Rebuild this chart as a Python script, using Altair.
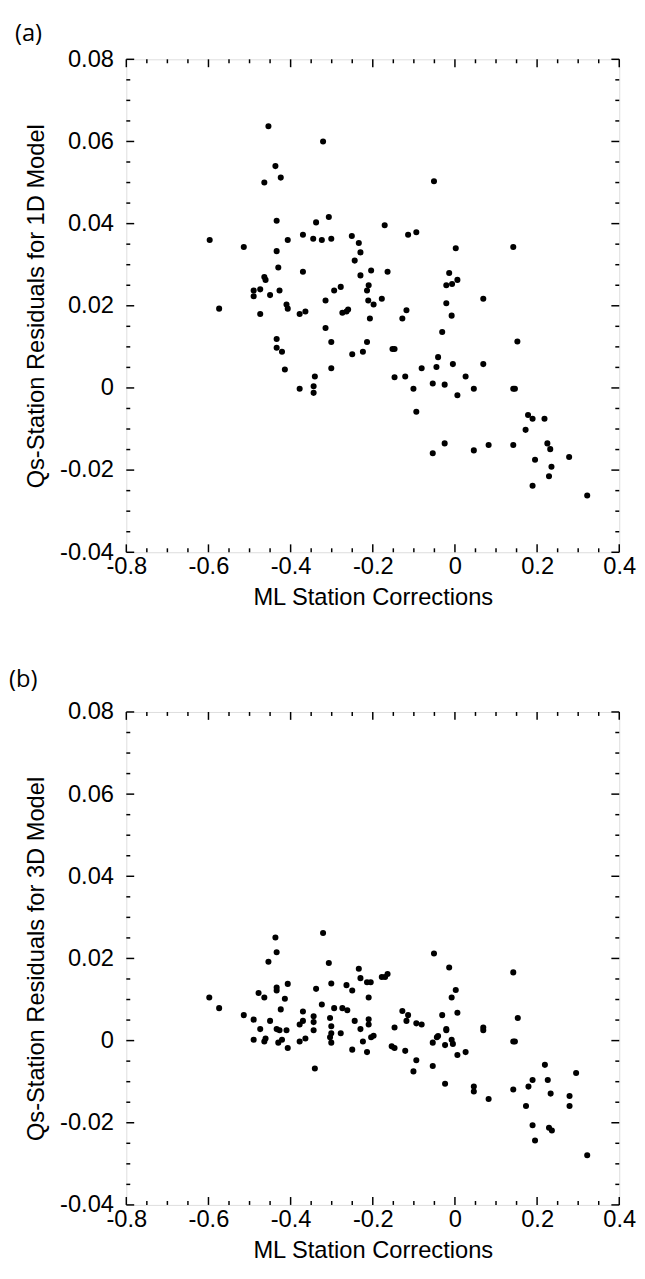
import altair as alt
import pandas as pd

# ---------------- data ----------------
a_x = [-0.597, -0.574, -0.514, -0.490, -0.490, -0.474, -0.474, -0.464, -0.464, -0.461,
       -0.454, -0.450, -0.437, -0.434, -0.434, -0.434, -0.434, -0.430, -0.427, -0.424,
       -0.421, -0.414, -0.410, -0.407, -0.407, -0.378, -0.378, -0.370, -0.370, -0.364,
       -0.344, -0.344, -0.345, -0.341, -0.338, -0.324, -0.321, -0.307, -0.315, -0.315,
       -0.301, -0.301, -0.301, -0.294, -0.278, -0.274, -0.264, -0.260, -0.251, -0.250,
       -0.244, -0.234, -0.230, -0.230, -0.224, -0.214, -0.214, -0.210, -0.211, -0.207,
       -0.204, -0.198, -0.178, -0.171, -0.164, -0.152, -0.147, -0.147, -0.128, -0.121,
       -0.118, -0.114, -0.101, -0.094, -0.094, -0.081, -0.054, -0.054, -0.051, -0.045,
       -0.041, -0.031, -0.025, -0.025, -0.021, -0.021, -0.014, -0.007, -0.008, -0.005,
       0.002, 0.006, 0.006, 0.026, 0.046, 0.046, 0.069, 0.069, 0.082, 0.142,
       0.142, 0.146, 0.142, 0.152, 0.172, 0.178, 0.189, 0.189, 0.195, 0.218,
       0.225, 0.229, 0.232, 0.235, 0.278, 0.322]
a_y = [0.0360, 0.0193, 0.0343, 0.0237, 0.0223, 0.0180, 0.0240, 0.0500, 0.0270, 0.0263,
       0.0637, 0.0226, 0.0540, 0.0407, 0.0333, 0.0119, 0.0098, 0.0293, 0.0237, 0.0512,
       0.0088, 0.0045, 0.0203, 0.0193, 0.0360, -0.0002, 0.0180, 0.0283, 0.0373, 0.0186,
       0.0004, -0.0012, 0.0363, 0.0028, 0.0403, 0.0360, 0.0600, 0.0416, 0.0213, 0.0146,
       0.0363, 0.0112, 0.0048, 0.0237, 0.0246, 0.0183, 0.0186, 0.0191, 0.0370, 0.0082,
       0.0310, 0.0353, 0.0330, 0.0274, 0.0088, 0.0112, 0.0237, 0.0250, 0.0213, 0.0169,
       0.0286, 0.0203, 0.0217, 0.0396, 0.0283, 0.0095, 0.0095, 0.0026, 0.0169, 0.0028,
       0.0189, 0.0373, -0.0002, -0.0058, 0.0379, 0.0048, 0.0011, -0.0159, 0.0503, 0.0051,
       0.0075, 0.0136, 0.0008, -0.0135, 0.0206, 0.0250, 0.0280, 0.0253, 0.0176, 0.0058,
       0.0340, 0.0263, -0.0018, 0.0028, -0.0002, -0.0152, 0.0217, 0.0058, -0.0139, 0.0343,
       -0.0002, -0.0002, -0.0139, 0.0113, -0.0102, -0.0066, -0.0075, -0.0238, -0.0175, -0.0075,
       -0.0135, -0.0215, -0.0149, -0.0192, -0.0168, -0.0262]

b_x = [-0.598, -0.574, -0.514, -0.490, -0.490, -0.478, -0.464, -0.474, -0.464, -0.461,
       -0.450, -0.454, -0.437, -0.434, -0.434, -0.434, -0.407, -0.414, -0.424, -0.434,
       -0.427, -0.410, -0.430, -0.421, -0.407, -0.378, -0.364, -0.378, -0.370, -0.370,
       -0.344, -0.344, -0.344, -0.338, -0.341, -0.324, -0.321, -0.307, -0.304, -0.301,
       -0.301, -0.301, -0.304, -0.301, -0.294, -0.274, -0.262, -0.278, -0.264, -0.250,
       -0.244, -0.250, -0.234, -0.230, -0.230, -0.224, -0.214, -0.205, -0.210, -0.210,
       -0.210, -0.214, -0.204, -0.198, -0.178, -0.170, -0.164, -0.154, -0.147, -0.147,
       -0.128, -0.114, -0.118, -0.121, -0.094, -0.081, -0.094, -0.101, -0.054, -0.054,
       -0.051, -0.044, -0.041, -0.031, -0.024, -0.024, -0.021, -0.021, -0.014, -0.008,
       -0.008, -0.005, 0.002, 0.006, 0.006, 0.026, 0.046, 0.046, 0.069, 0.069,
       0.082, 0.142, 0.142, 0.146, 0.142, 0.153, 0.173, 0.179, 0.189, 0.189,
       0.195, 0.219, 0.226, 0.229, 0.233, 0.236, 0.279, 0.279, 0.295, 0.322]
b_y = [0.0105, 0.0079, 0.0062, 0.0051, 0.0002, 0.0116, 0.0105, 0.0028, -0.0002, 0.0005,
       0.0048, 0.0192, 0.0251, 0.0215, 0.0129, 0.0122, 0.0138, 0.0102, 0.0076, 0.0028,
       0.0025, 0.0025, -0.0005, 0.0002, -0.0018, -0.0002, 0.0005, 0.0039, 0.0048, 0.0071,
       0.0059, 0.0045, 0.0025, 0.0126, -0.0068, 0.0088, 0.0262, 0.0189, 0.0055, 0.0139,
       0.0035, 0.0018, 0.0008, -0.0005, 0.0079, 0.0079, 0.0074, 0.0018, 0.0135, 0.0122,
       0.0048, -0.0022, 0.0175, 0.0152, 0.0028, -0.0002, 0.0142, 0.0142, 0.0105, 0.0052,
       0.0039, -0.0028, 0.0008, 0.0012, 0.0155, 0.0155, 0.0162, -0.0014, -0.0018, 0.0032,
       0.0072, 0.0062, 0.0048, -0.0025, 0.0042, 0.0039, -0.0048, -0.0075, -0.0062, -0.0005,
       0.0212, 0.0008, 0.0011, 0.0062, -0.0011, -0.0105, 0.0028, 0.0025, 0.0178, 0.0105,
       0.0002, -0.0008, 0.0123, 0.0068, -0.0035, -0.0028, -0.0112, -0.0124, 0.0032, 0.0025,
       -0.0142, 0.0166, -0.0002, -0.0002, -0.0119, 0.0055, -0.0159, -0.0112, -0.0096, -0.0206,
       -0.0243, -0.0059, -0.0096, -0.0212, -0.0129, -0.0219, -0.0135, -0.0159, -0.0079, -0.0279]

x_major = [-0.8, -0.6, -0.4, -0.2, 0.0, 0.2, 0.4]
x_minor = [-0.75, -0.7, -0.65, -0.55, -0.5, -0.45, -0.35, -0.3, -0.25,
           -0.15, -0.1, -0.05, 0.05, 0.1, 0.15, 0.25, 0.3, 0.35]
y_major = [-0.04, -0.02, 0.0, 0.02, 0.04, 0.06, 0.08]
y_minor = [-0.035, -0.03, -0.025, -0.015, -0.01, -0.005, 0.005, 0.01, 0.015,
           0.025, 0.03, 0.035, 0.045, 0.05, 0.055, 0.065, 0.07, 0.075]

x_title = "ML Station Corrections"
y_title_a = "Qs-Station Residuals for 1D Model"
y_title_b = "Qs-Station Residuals for 3D Model"

# ---------------- styling ----------------
W = 500
H = 500
FONT = "Liberation Sans"
LABEL_EXPR = "datum.value < 0 ? '-' + format(-datum.value, '~g') : format(datum.value, '~g')"

xscale = alt.Scale(domain=[-0.8, 0.4], nice=False, zero=False)
yscale = alt.Scale(domain=[-0.04, 0.08], nice=False, zero=False)


def x_axis():
    return alt.Axis(values=x_major, ticks=False, domain=False, grid=False,
                    labelExpr=LABEL_EXPR, labelFont=FONT, labelFontSize=24,
                    labelColor="black", labelPadding=3, labelFlush=False,
                    title=x_title, titleFont=FONT, titleFontSize=24,
                    titleFontWeight="normal", titleColor="black", titlePadding=7)


def y_axis(title):
    return alt.Axis(values=y_major, ticks=False, domain=False, grid=False,
                    labelExpr=LABEL_EXPR, labelFont=FONT, labelFontSize=24,
                    labelColor="black", labelPadding=13, labelFlush=False,
                    title=title, titleFont=FONT, titleFontSize=24,
                    titleFontWeight="normal", titleColor="black", titlePadding=11)


def panel(xs, ys, ytitle, tag, tag_x, tag_y):
    X = lambda: alt.X("x:Q", scale=xscale, axis=x_axis())
    Y = lambda: alt.Y("y:Q", scale=yscale, axis=y_axis(ytitle))

    pts = alt.Chart(pd.DataFrame({"x": xs, "y": ys})).mark_circle(
        size=38, color="black", opacity=1
    ).encode(x=X(), y=Y())

    layers = [pts]
    for vals, ln in ((x_major, 8), (x_minor, 4)):
        d = pd.DataFrame({"x": vals})
        layers.append(alt.Chart(d).mark_rule(color="black", strokeWidth=1.5).encode(
            x=X(), y=alt.value(H), y2=alt.value(H - ln)))
        layers.append(alt.Chart(d).mark_rule(color="black", strokeWidth=1.5).encode(
            x=X(), y=alt.value(0), y2=alt.value(ln)))
    for vals, ln in ((y_major, 8), (y_minor, 4)):
        d = pd.DataFrame({"y": vals})
        layers.append(alt.Chart(d).mark_rule(color="black", strokeWidth=1.5).encode(
            y=Y(), x=alt.value(0), x2=alt.value(ln)))
        layers.append(alt.Chart(d).mark_rule(color="black", strokeWidth=1.5).encode(
            y=Y(), x=alt.value(W), x2=alt.value(W - ln)))

    lab = alt.Chart(pd.DataFrame({"t": [tag]})).mark_text(
        align="left", baseline="alphabetic", font="Open Sans", fontSize=24, color="black"
    ).encode(x=alt.value(tag_x), y=alt.value(tag_y), text="t:N")
    layers.append(lab)

    return alt.layer(*layers).properties(width=W, height=H)


top = panel(a_x, a_y, y_title_a, "(a)", -113, -18.5)
bottom = panel(b_x, b_y, y_title_b, "(b)", -119, -25.7)

chart = alt.vconcat(top, bottom, spacing=162, bounds="flush").properties(
    padding={"left": 0, "top": 5, "right": 0, "bottom": 0}
).configure_view(stroke="black", strokeWidth=2).configure(background="white")

chart.save("out.html", embed_options={"renderer": "svg", "actions": False})
